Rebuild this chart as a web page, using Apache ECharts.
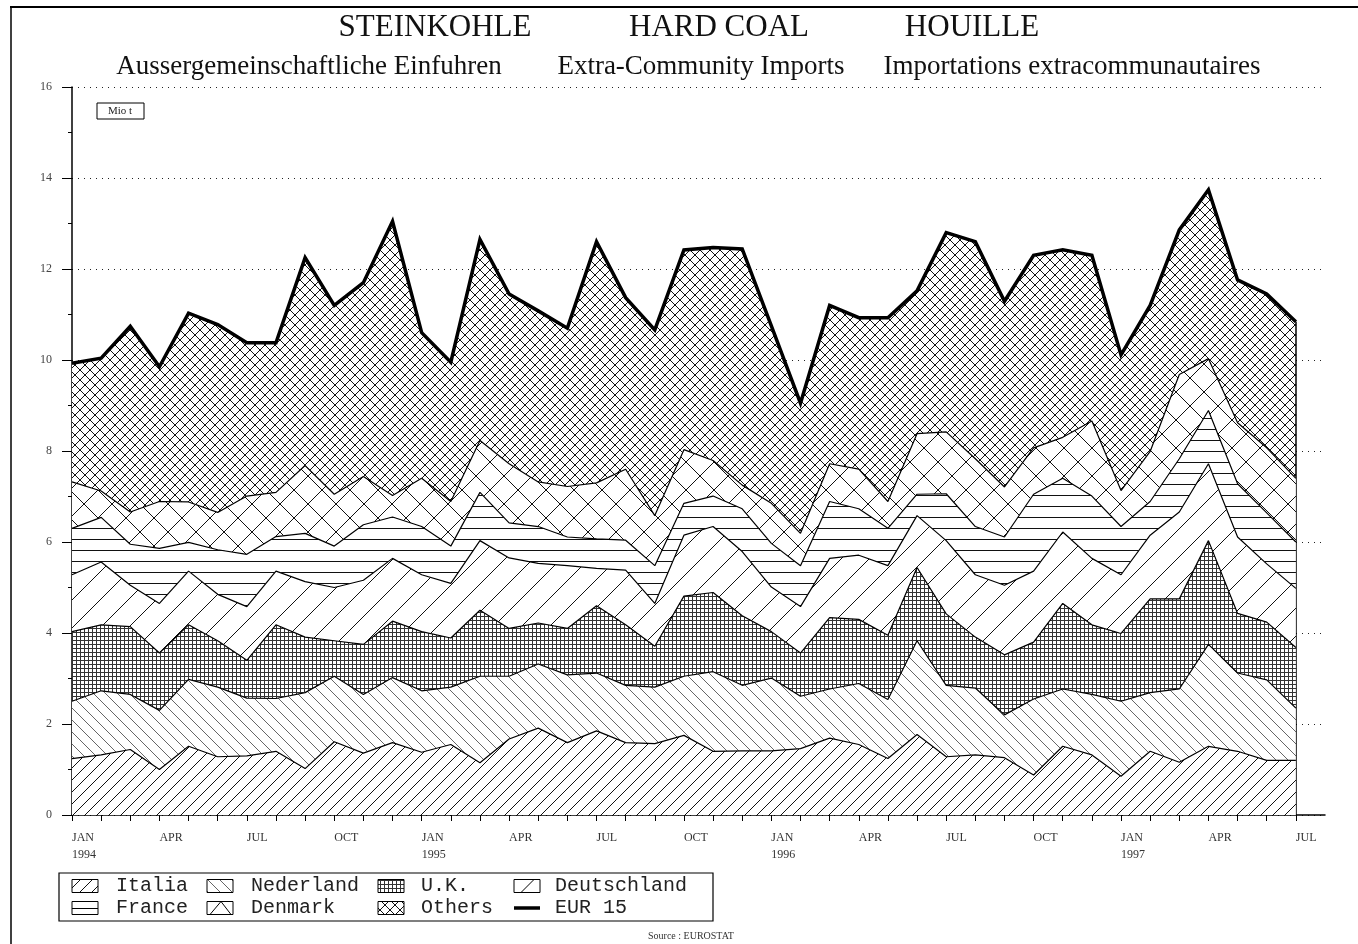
<!DOCTYPE html>
<html><head><meta charset="utf-8">
<script src="https://cdn.jsdelivr.net/npm/echarts@6/dist/echarts.min.js"></script>
<style>html,body{margin:0;padding:0;background:#fff}#c{width:1358px;height:944px}</style>
</head><body><div id="c"></div>
<script>
// Monthly categories, Jan 1994 .. Jul 1997
const months = ['JAN 1994','FEB 1994','MAR 1994','APR 1994','MAY 1994','JUN 1994','JUL 1994','AUG 1994','SEP 1994','OCT 1994','NOV 1994','DEC 1994',
 'JAN 1995','FEB 1995','MAR 1995','APR 1995','MAY 1995','JUN 1995','JUL 1995','AUG 1995','SEP 1995','OCT 1995','NOV 1995','DEC 1995',
 'JAN 1996','FEB 1996','MAR 1996','APR 1996','MAY 1996','JUN 1996','JUL 1996','AUG 1996','SEP 1996','OCT 1996','NOV 1996','DEC 1996',
 'JAN 1997','FEB 1997','MAR 1997','APR 1997','MAY 1997','JUN 1997','JUL 1997'];
const tickLabels = ['JAN\n1994','APR','JUL','OCT','JAN\n1995','APR','JUL','OCT','JAN\n1996','APR','JUL','OCT','JAN\n1997','APR','JUL'];

// Extra-community hard coal imports by member state (Mio t), stacked in this order
const italia = [1.24,1.32,1.44,1.00,1.51,1.28,1.30,1.40,1.02,1.61,1.36,1.59,1.38,1.55,1.15,1.67,1.91,1.59,1.85,1.59,1.57,1.75,1.40,1.41,1.41,1.46,1.69,1.55,1.24,1.77,1.28,1.32,1.26,0.88,1.51,1.32,0.85,1.40,1.16,1.51,1.40,1.20,1.20];
const nederland = [1.26,1.41,1.21,1.30,1.47,1.53,1.27,1.16,1.67,1.44,1.29,1.43,1.35,1.26,1.90,1.38,1.41,1.49,1.27,1.26,1.24,1.30,1.75,1.44,1.60,1.15,1.08,1.34,1.30,2.06,1.57,1.47,0.94,1.67,1.26,1.33,1.65,1.29,1.61,2.24,1.72,1.77,1.15];
const uk = [1.53,1.45,1.49,1.26,1.20,1.02,0.83,1.62,1.22,0.78,1.10,1.24,1.30,1.08,1.45,1.05,0.90,1.02,1.48,1.33,0.90,1.76,1.74,1.53,1.02,0.95,1.57,1.41,1.41,1.61,1.57,1.12,1.32,1.25,1.88,1.53,1.49,2.06,1.98,2.28,1.31,1.27,1.33];
const deutschland = [1.25,1.38,0.91,1.09,1.18,1.02,1.18,1.18,1.22,1.17,1.41,1.38,1.25,1.20,1.53,1.55,1.31,1.38,0.82,1.20,0.94,1.34,1.45,1.41,0.98,1.02,1.30,1.41,1.53,1.14,1.61,1.37,1.53,1.56,1.57,1.46,1.29,1.40,1.91,1.69,1.68,1.28,1.30];
const france = [1.02,0.98,0.90,1.21,0.63,0.98,1.15,0.76,1.06,0.91,1.22,0.91,1.06,0.82,1.06,0.77,0.81,0.63,0.65,0.66,0.83,0.70,0.67,0.94,0.96,0.90,1.25,1.02,0.82,0.47,1.03,1.06,1.06,1.69,1.18,1.37,1.06,0.74,1.17,1.17,1.17,1.12,1.02];
const denmark = [1.02,0.58,0.71,1.03,0.89,0.82,1.28,0.97,1.49,1.14,1.06,0.47,1.06,0.98,1.14,1.30,0.98,1.11,1.23,1.56,1.10,1.18,0.78,0.52,0.88,0.71,0.83,0.87,0.59,1.33,1.36,1.49,1.10,1.02,0.90,1.65,0.79,1.10,1.85,1.14,1.34,1.43,1.40];
const others = [2.61,2.92,4.08,2.96,4.15,4.13,3.37,3.29,4.57,4.15,4.26,6.03,3.20,3.06,4.42,3.73,3.76,3.48,5.30,3.77,4.08,4.39,4.68,5.19,3.90,2.86,3.48,3.33,4.04,3.14,4.38,4.77,4.08,4.23,4.12,3.64,2.98,3.21,3.18,3.71,3.14,3.38,3.44];
const eur15 = [9.93,10.04,10.74,9.85,11.03,10.78,10.38,10.38,12.25,11.20,11.70,13.05,10.60,9.95,12.65,11.45,11.08,10.70,12.60,11.37,10.66,12.42,12.47,12.44,10.75,9.05,11.20,10.93,10.93,11.52,12.80,12.60,11.29,12.30,12.42,12.30,10.11,11.20,12.86,13.74,11.76,11.45,10.84];

// ---- hatch patterns ----
function tile(size, color, fn){
  const c=document.createElement('canvas'); c.width=size; c.height=size;
  const g=c.getContext('2d'); g.fillStyle='#fff'; g.fillRect(0,0,size,size);
  g.strokeStyle=color; g.fillStyle=color; g.lineWidth=1; fn(g,size); return c;
}
function fwd(g,s){g.beginPath();g.moveTo(-1,1);g.lineTo(1,-1);g.moveTo(0,s);g.lineTo(s,0);g.moveTo(s-1,s+1);g.lineTo(s+1,s-1);g.stroke();}
function bwd(g,s){g.beginPath();g.moveTo(-1,s-1);g.lineTo(1,s+1);g.moveTo(0,0);g.lineTo(s,s);g.moveTo(s-1,-1);g.lineTo(s+1,1);g.stroke();}
const pat = {
  Italia: tile(12,'#111',fwd),
  Nederland: tile(12,'#666',bwd),
  UK: tile(4,'#333',(g,s)=>{g.fillRect(0,0,s,1);g.fillRect(0,0,1,s);}),
  Deutschland: tile(28,'#111',fwd),
  France: tile(11,'#111',(g,s)=>{g.fillRect(0,0,s,1);}),
  Denmark: tile(28,'#111',(g,s)=>{fwd(g,s);bwd(g,s);}),
  Others: tile(10,'#111',(g,s)=>{fwd(g,s);bwd(g,s);})
};
const P = k => ({image: pat[k], repeat: 'repeat'});

// stacking order, bottom to top
const layers = [
  {name:'Italia', key:'Italia', data: italia},
  {name:'Nederland', key:'Nederland', data: nederland},
  {name:'U.K.', key:'UK', data: uk},
  {name:'Deutschland', key:'Deutschland', data: deutschland},
  {name:'France', key:'France', data: france},
  {name:'Denmark', key:'Denmark', data: denmark},
  {name:'Others', key:'Others', data: others}
];

const series = layers.map((l, k) => ({
  type:'line', name:l.name, stack:'total', data:l.data, symbol:'none', z:10-k,
  lineStyle:{color:'#000', width:1.2}, areaStyle:{color:P(l.key), opacity:1}, silent:true
}));
const last = months.length-1;
series.push({
  type:'line', name:'EUR 15', data:eur15, symbol:'none', z:12,
  lineStyle:{color:'#000', width:3.5, join:'miter'}, silent:true,
  markLine:{silent:true, symbol:'none', label:{show:false}, lineStyle:{color:'#000', width:1.5, type:'solid'},
    data:[[{coord:[months[last],0]},{coord:[months[last],eur15[last]]}]]}
});

// ---- legend (drawn) ----
const legendItems = [
  {name:'Italia', key:'Italia', col:0, row:0}, {name:'Nederland', key:'Nederland', col:1, row:0},
  {name:'U.K.', key:'UK', col:2, row:0}, {name:'Deutschland', key:'Deutschland', col:3, row:0},
  {name:'France', key:'France', col:0, row:1}, {name:'Denmark', key:'Denmark', col:1, row:1},
  {name:'Others', key:'Others', col:2, row:1}, {name:'EUR 15', key:null, col:3, row:1}
];
const colPatchX = [72,207,378,514], colTextX = [116,251,421,555], rowY = [886,908];
const graphic = [
  {type:'line', shape:{x1:10,y1:7,x2:1358,y2:7}, style:{stroke:'#000', lineWidth:2}},
  {type:'line', shape:{x1:11,y1:7,x2:11,y2:944}, style:{stroke:'#000', lineWidth:1.5}},
  {type:'text', x:435, y:28, style:{text:'STEINKOHLE', font:'31px "Liberation Serif"', fill:'#111', align:'center', verticalAlign:'middle'}},
  {type:'text', x:719, y:28, style:{text:'HARD COAL', font:'31px "Liberation Serif"', fill:'#111', align:'center', verticalAlign:'middle'}},
  {type:'text', x:972, y:28, style:{text:'HOUILLE', font:'31px "Liberation Serif"', fill:'#111', align:'center', verticalAlign:'middle'}},
  {type:'text', x:309, y:67, style:{text:'Aussergemeinschaftliche Einfuhren', font:'27px "Liberation Serif"', fill:'#111', align:'center', verticalAlign:'middle'}},
  {type:'text', x:701, y:67, style:{text:'Extra-Community Imports', font:'27px "Liberation Serif"', fill:'#111', align:'center', verticalAlign:'middle'}},
  {type:'text', x:1072, y:67, style:{text:'Importations extracommunautaires', font:'27px "Liberation Serif"', fill:'#111', align:'center', verticalAlign:'middle'}},
  {type:'rect', shape:{x:97,y:103,width:47,height:16}, style:{fill:'#fff', stroke:'#000', lineWidth:1}, z:10},
  {type:'text', x:120, y:111, z:11, style:{text:'Mio t', font:'11px "Liberation Serif"', fill:'#222', align:'center', verticalAlign:'middle'}},
  {type:'rect', shape:{x:59,y:873,width:654,height:48}, style:{fill:'#fff', stroke:'#000', lineWidth:1.2}},
  {type:'text', x:648, y:936, style:{text:'Source : EUROSTAT', font:'10px "Liberation Serif"', fill:'#333', align:'left', verticalAlign:'middle'}}
];
legendItems.forEach(it => {
  const px = colPatchX[it.col], y = rowY[it.row];
  const top = y-6.5, bot = y+6.5;
  if (it.key === null) {
    graphic.push({type:'line', shape:{x1:px,y1:y,x2:px+26,y2:y}, style:{stroke:'#000', lineWidth:3.5}, z:5});
  } else if (it.key === 'Deutschland') {
    graphic.push({type:'rect', shape:{x:px,y:top,width:26,height:13}, style:{fill:'#fff', stroke:'#000', lineWidth:1}, z:5});
    graphic.push({type:'line', shape:{x1:px+7,y1:bot,x2:px+20,y2:top}, style:{stroke:'#000', lineWidth:1}, z:6});
  } else if (it.key === 'France') {
    graphic.push({type:'rect', shape:{x:px,y:top,width:26,height:13}, style:{fill:'#fff', stroke:'#000', lineWidth:1}, z:5});
    graphic.push({type:'line', shape:{x1:px,y1:y+0.5,x2:px+26,y2:y+0.5}, style:{stroke:'#000', lineWidth:1}, z:6});
  } else if (it.key === 'Denmark') {
    graphic.push({type:'rect', shape:{x:px,y:top,width:26,height:13}, style:{fill:'#fff', stroke:'#000', lineWidth:1}, z:5});
    graphic.push({type:'polyline', shape:{points:[[px+3,bot],[px+14,top],[px+24,bot]]}, style:{stroke:'#000', fill:null, lineWidth:1}, z:6});
  } else {
    graphic.push({type:'rect', shape:{x:px,y:top,width:26,height:13}, style:{fill:P(it.key), stroke:'#000', lineWidth:1}, z:5});
  }
  graphic.push({type:'text', x:colTextX[it.col], y:y, z:5, style:{text:it.name, font:'20px "Liberation Mono"', fill:'#222', align:'left', verticalAlign:'middle'}});
});

// category axis: the 43 months plus one empty slot so the axis runs past JUL 1997
const axisCats = months.concat(['']);
const chart = echarts.init(document.getElementById('c'), null, {renderer:'canvas'});
chart.setOption({
  animation:false,
  backgroundColor:'#fff',
  grid:{left:72, right:33, top:87, bottom:129, containLabel:false},
  xAxis:{type:'category', data:axisCats, boundaryGap:false,
    axisLine:{show:true, lineStyle:{color:'#000', width:1.5}},
    axisTick:{show:true, length:6, lineStyle:{color:'#000', width:1}, interval:(i)=> i <= last},
    axisLabel:{show:true, margin:14, align:'left', lineHeight:17, color:'#333', fontFamily:'Liberation Serif', fontSize:12,
      interval:(i)=> i % 3 === 0 && i <= last,
      formatter:(v, i)=> (i % 3 === 0 && i <= last) ? tickLabels[i/3] : ''},
    splitLine:{show:false}},
  yAxis:{type:'value', min:0, max:16, interval:2,
    axisLine:{show:true, lineStyle:{color:'#000', width:1.5}},
    axisTick:{show:true, length:10, lineStyle:{color:'#000', width:1}},
    minorTick:{show:true, splitNumber:2, length:4, lineStyle:{color:'#000', width:1}},
    axisLabel:{margin:20, color:'#444', fontFamily:'Liberation Serif', fontSize:12},
    splitLine:{show:true, lineStyle:{color:'#222', width:1, type:[1,5]}}},
  series: series,
  graphic: graphic
});
</script></body></html>
